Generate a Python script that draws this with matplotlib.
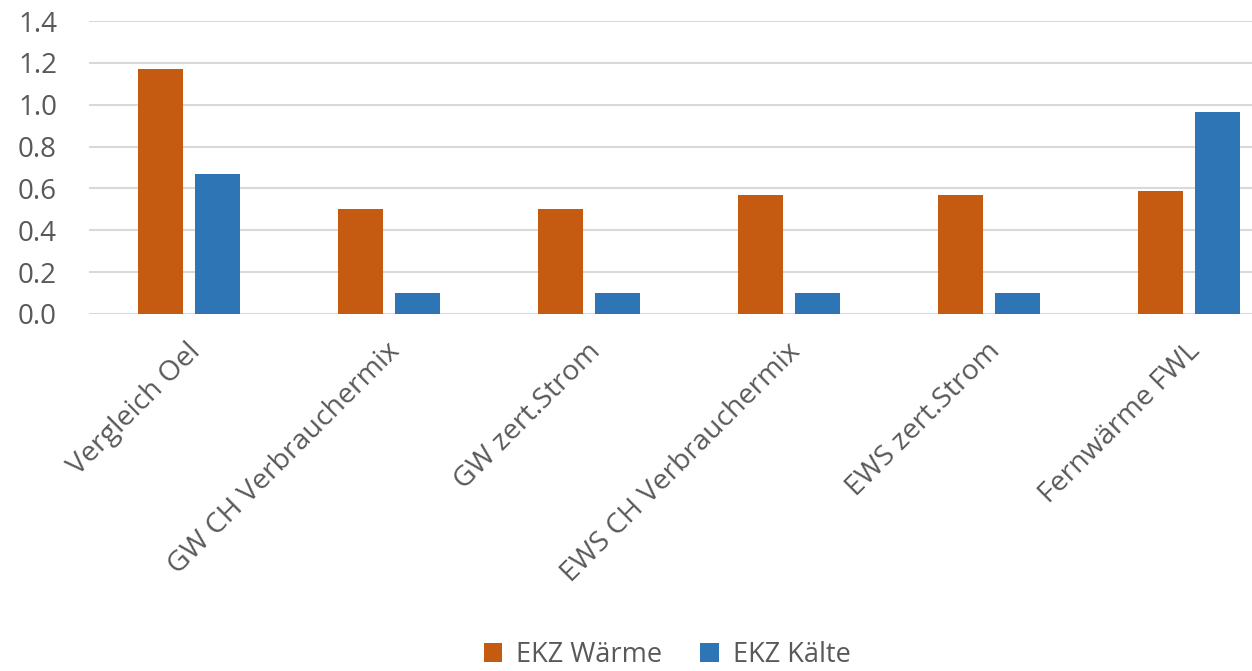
import matplotlib
matplotlib.use("Agg")
import matplotlib.pyplot as plt
import numpy as np

categories = ["Vergleich Oel", "GW CH Verbrauchermix", "GW zert.Strom",
              "EWS CH Verbrauchermix", "EWS zert.Strom", "Fernwärme FWL"]
waerme = [1.17, 0.50, 0.50, 0.57, 0.57, 0.59]
kaelte = [0.67, 0.10, 0.10, 0.10, 0.10, 0.965]
series_names = ["EKZ Wärme", "EKZ Kälte"]
yticks = [0.0, 0.2, 0.4, 0.6, 0.8, 1.0, 1.2, 1.4]

plt.rcParams['font.family'] = ['Open Sans', 'DejaVu Sans']
grey = "#595959"

fig = plt.figure(figsize=(12.52, 6.71), dpi=100)
ax = fig.add_axes([89/1252, 1 - 314/671, 1 - 89/1252, (314 - 21)/671])

x = np.arange(len(categories))
w = 0.225
off = 0.1425
ax.bar(x - off, waerme, w, color="#C55A11", label=series_names[0], zorder=3)
ax.bar(x + off, kaelte, w, color="#2E75B6", label=series_names[1], zorder=3)

ax.set_xlim(-0.5, 5.315)
ax.set_ylim(0, 1.4)
ax.set_yticks(yticks)
ax.set_yticklabels([f"{v:.1f}" for v in yticks], color=grey, fontsize=20)
ax.yaxis.grid(True, color="#d9d9d9", linewidth=1.5, zorder=0)
ax.tick_params(axis="y", length=0, pad=23)
ax.tick_params(axis="x", length=0, pad=24)
ax.set_xticks(x)
ax.set_xticklabels(categories, rotation=45, ha="right", va="center",
                   rotation_mode="anchor", color=grey, fontsize=20.5)
for lbl in ax.get_xticklabels():
    lbl.set_transform(lbl.get_transform() +
                      matplotlib.transforms.ScaledTranslation(0.07, 0, fig.dpi_scale_trans))
for s in ax.spines.values():
    s.set_visible(False)

fig.legend(loc="center", bbox_to_anchor=(667/1252, 1 - 655/671), ncol=2, frameon=False,
           fontsize=19.5, labelcolor=grey, handlelength=0.7, handleheight=0.7,
           handletextpad=0.5, columnspacing=1.4)

fig.savefig("out.png", dpi=100)
